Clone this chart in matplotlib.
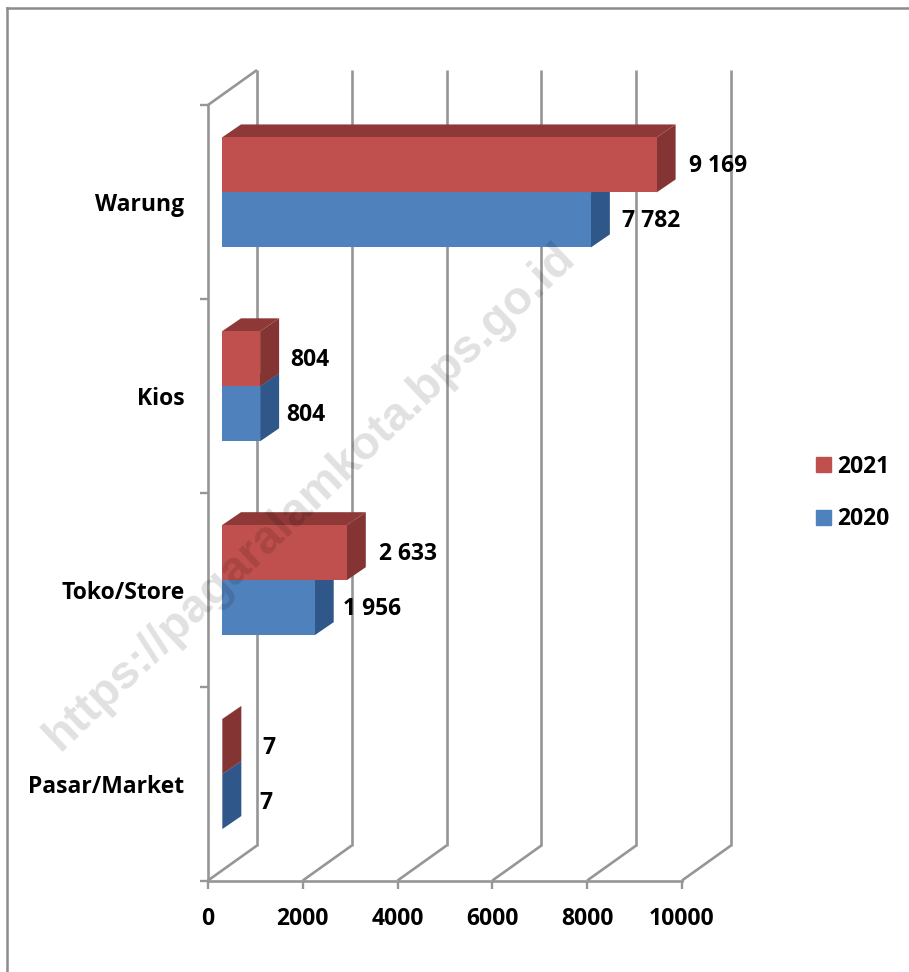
#!/usr/bin/env python3
"""Horizontal pseudo-3D clustered bars: outlets by type, 2020 and 2021."""

import matplotlib
matplotlib.use("Agg")
import matplotlib.pyplot as plt
from matplotlib.lines import Line2D
from matplotlib.patches import Patch

# bottom to top, like the y axis
categories = ["Pasar/Market", "Toko/Store", "Kios", "Warung"]
values_2020 = [7, 1956, 804, 7782]
values_2021 = [7, 2633, 804, 9169]
labels_2020 = ["7", "1 956", "804", "7 782"]
labels_2021 = ["7", "2 633", "804", "9 169"]
x_ticks = [0, 2000, 4000, 6000, 8000, 10000]

WIDTH, HEIGHT = 909, 972
AX_LEFT, AX_RIGHT, AX_TOP, AX_BOTTOM = 208, 682, 105, 880.5

# depth of the fake 3D, in pixels
WALL_DX, WALL_DY = 49, 35
FRONT_DX, FRONT_DY = 14, 9.5
BAR_DX, BAR_DY = 19, 13
BAR_HALF = 55

GRAY = "#969696"
RED = ("#C0504D", "#8E3937", "#843533")
BLUE = ("#4F81BD", "#3B608E", "#30578A")
FONT = ["Open Sans", "DejaVu Sans"]
FONT_SIZE = 16.5

# label distance from the bar end, in pixels
GAP_2020 = [37, 28, 26, 31]
GAP_2021 = [40, 32, 30, 32]

plt.rcParams["font.family"] = FONT
plt.rcParams["font.weight"] = "bold"
plt.rcParams["font.size"] = FONT_SIZE

fig = plt.figure(figsize=(WIDTH / 100, HEIGHT / 100), dpi=100)
ax = fig.add_axes([
    AX_LEFT / WIDTH,
    1 - AX_BOTTOM / HEIGHT,
    (AX_RIGHT - AX_LEFT) / WIDTH,
    (AX_BOTTOM - AX_TOP) / HEIGHT,
])
ax.set_xlim(0, 10000)
ax.set_ylim(0, 4)
ax.patch.set_visible(False)

PX = 10000 / (AX_RIGHT - AX_LEFT)
PY = 4 / (AX_BOTTOM - AX_TOP)


def wall_line(xs, ys):
    """Draw one gray line of the 3D box, unclipped."""
    ax.plot(xs, ys, color=GRAY, lw=1.9, clip_on=False, zorder=1,
            solid_capstyle="butt")


def draw_walls():
    """Back gridlines, floor diagonals and the top left diagonal."""
    dx, dy = WALL_DX * PX, WALL_DY * PY
    for tick in x_ticks:
        wall_line([tick + dx, tick + dx], [dy, 4 + dy])
        wall_line([tick, tick + dx], [0, dy])
    wall_line([0, dx], [4, 4 + dy])


def draw_bar(value, low, high, colors, zorder):
    """Front, top and side faces of one bar."""
    front, top, side = colors
    x0 = FRONT_DX * PX
    x1 = x0 + value
    dx, dy = BAR_DX * PX, BAR_DY * PY
    ax.fill([x0, x1, x1 + dx, x0 + dx], [high, high, high + dy, high + dy],
            color=top, lw=0, clip_on=False, zorder=zorder)
    ax.fill([x1, x1 + dx, x1 + dx, x1], [low, low + dy, high + dy, high],
            color=side, lw=0, clip_on=False, zorder=zorder)
    ax.fill([x0, x1, x1, x0], [low, low, high, high],
            color=front, lw=0, clip_on=False, zorder=zorder)


draw_walls()

for i, name in enumerate(categories):
    mid = i + 0.5 + FRONT_DY * PY
    half = BAR_HALF * PY
    draw_bar(values_2020[i], mid - half, mid, BLUE, 3)
    draw_bar(values_2021[i], mid, mid + half, RED, 4)
    x_start = FRONT_DX * PX
    ax.text(x_start + values_2020[i] + GAP_2020[i] * PX, mid - half / 2 - 1.5 * PY,
            labels_2020[i], ha="left", va="center", zorder=6, clip_on=False)
    ax.text(x_start + values_2021[i] + GAP_2021[i] * PX, mid + half / 2 - 1.5 * PY,
            labels_2021[i], ha="left", va="center", zorder=6, clip_on=False)

# axes: ticks sit on the category edges, names between them
ax.set_xticks(x_ticks)
ax.set_yticks(range(5))
ax.set_yticklabels([])
ax.set_yticks([i + 0.5 for i in range(4)], minor=True)
ax.set_yticklabels(categories, minor=True)
ax.tick_params(axis="x", which="major", length=6, width=1.7, color=GRAY, pad=13)
ax.tick_params(axis="y", which="major", length=6, width=1.7, color=GRAY)
ax.tick_params(axis="y", which="minor", length=0, pad=17)
for spine in ("top", "right"):
    ax.spines[spine].set_visible(False)
for spine in ("left", "bottom"):
    ax.spines[spine].set_color(GRAY)
    ax.spines[spine].set_linewidth(1.9)

# legend
handles = [Patch(color=RED[0], label="2021"), Patch(color=BLUE[0], label="2020")]
fig.legend(handles=handles, loc="center left", frameon=False,
           bbox_to_anchor=(795 / WIDTH, 1 - 493 / HEIGHT),
           handlelength=0.66, handleheight=0.66, handletextpad=0.27,
           labelspacing=1.25)

# outer frame of the source picture
fig.add_artist(Line2D([7 / WIDTH, 1], [1 - 8 / HEIGHT] * 2, color="#8c8c8c", lw=1.8))
fig.add_artist(Line2D([7 / WIDTH] * 2, [0, 1 - 8 / HEIGHT], color="#8c8c8c", lw=1.8))

# watermark
fig.text(310 / WIDTH, 1 - 497 / HEIGHT, "https://pagaralamkota.bps.go.id",
         rotation=43.6, rotation_mode="anchor", ha="center", va="center",
         fontsize=34, color="black", alpha=0.12, fontweight="bold",
         family=["Liberation Sans", "DejaVu Sans"], zorder=10)

fig.savefig("out.png", dpi=100)
